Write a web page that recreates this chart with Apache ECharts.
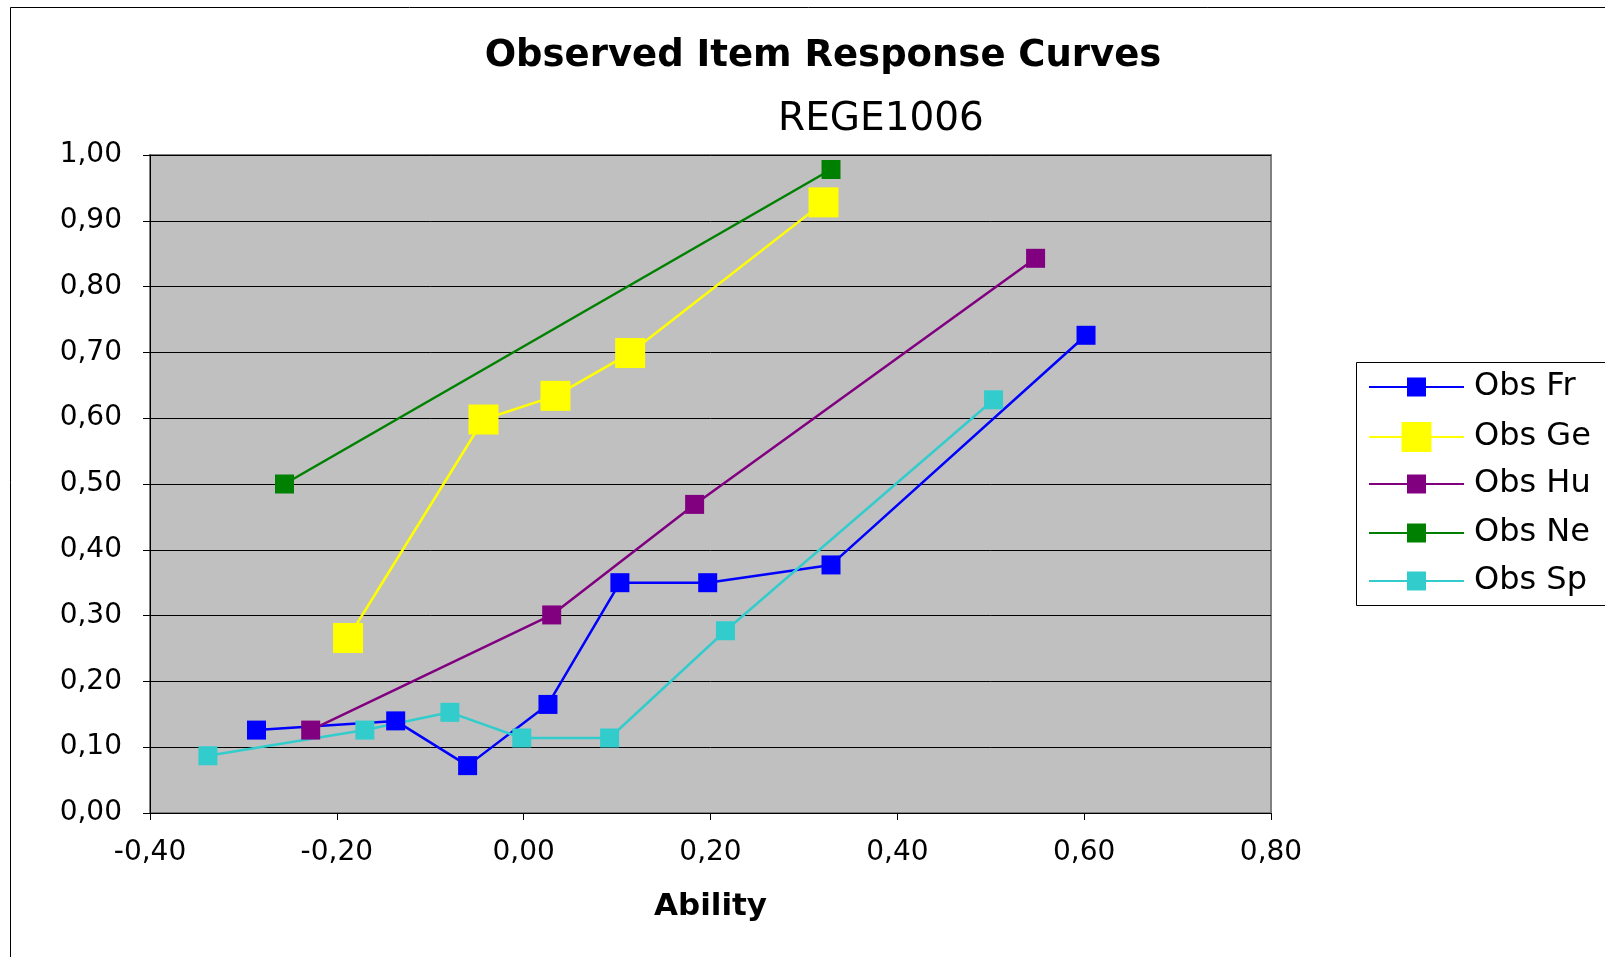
<!DOCTYPE html>
<html><head><meta charset="utf-8">
<script src="https://cdn.jsdelivr.net/npm/echarts@6/dist/echarts.min.js"></script>
<style>html,body{margin:0;padding:0;background:#fff}#c{width:1605px;height:957px}</style>
</head><body><div id="c"></div>
<script>
const seriesNames = ['Obs Fr','Obs Ge','Obs Hu','Obs Ne','Obs Sp'];
const colors = ['#0000ff','#ffff00','#800080','#008000','#33cccc'];
const frData = [[-0.286,0.126],[-0.137,0.140],[-0.060,0.072],[0.026,0.165],[0.103,0.350],[0.197,0.350],[0.329,0.377],[0.602,0.726]];
const geData = [[-0.188,0.266],[-0.043,0.598],[0.034,0.634],[0.114,0.699],[0.321,0.928]];
const huData = [[-0.228,0.126],[0.030,0.301],[0.183,0.469],[0.548,0.843]];
const neData = [[-0.256,0.500],[0.329,0.978]];
const spData = [[-0.338,0.087],[-0.170,0.126],[-0.079,0.153],[-0.002,0.114],[0.092,0.114],[0.216,0.277],[0.503,0.628]];
const allData = [frData, geData, huData, neData, spData];
const symbolSizes = [19, 30, 19, 19, 19];
const legendRowY = [387, 437, 484, 533, 581];

const fmt = v => v.toFixed(2).replace('.', ',');
const chart = echarts.init(document.getElementById('c'));
chart.setOption({
  animation: false,
  backgroundColor: '#fff',
  textStyle: {fontFamily: 'DejaVu Sans'},
  graphic: [
    {type:'rect', shape:{x:10.5,y:7.5,width:1700,height:1000}, style:{fill:'none',stroke:'#000',lineWidth:1}, silent:true, z:-10},
    {type:'rect', shape:{x:1356.5,y:362.5,width:400,height:243}, style:{fill:'#fff',stroke:'#000',lineWidth:1}, silent:true, z:-10}
  ],
  title: [
    {text:'Observed Item Response Curves', left:818, top:33, textAlign:'center',
     textStyle:{fontFamily:'DejaVu Sans', fontWeight:'bold', fontSize:37, color:'#000'}},
    {text:'REGE1006', left:876, top:95, textAlign:'center',
     textStyle:{fontFamily:'DejaVu Sans', fontWeight:'normal', fontSize:39, color:'#000'}}
  ],
  grid: {left:150, right:334, top:155, bottom:144, show:true, backgroundColor:'#c0c0c0', borderColor:'#808080', borderWidth:2},
  legend: seriesNames.map((n,i)=>({
    orient:'vertical', left:1368, top:legendRowY[i]-20, padding:0,
    data:[n], itemWidth:95, itemHeight: symbolSizes[i]/0.8,
    selectedMode:false,
    textStyle:{fontFamily:'DejaVu Sans', fontSize:32, color:'#000', lineHeight:40, padding:[0,0,0,5]}
  })),
  xAxis: {
    type:'value', min:-0.4, max:0.8, interval:0.2,
    name:'Ability', nameLocation:'middle', nameGap:78,
    nameTextStyle:{fontFamily:'DejaVu Sans', fontWeight:'bold', fontSize:31, color:'#000'},
    axisLine:{show:true, onZero:false, lineStyle:{color:'#000', width:1}},
    axisTick:{show:true, length:7, lineStyle:{color:'#000'}},
    axisLabel:{formatter:fmt, fontFamily:'DejaVu Sans', fontSize:28, color:'#000', margin:26},
    splitLine:{show:false}
  },
  yAxis: {
    type:'value', min:0, max:1, interval:0.1,
    axisLine:{show:true, onZero:false, lineStyle:{color:'#000', width:1}},
    axisTick:{show:true, length:7, lineStyle:{color:'#000'}},
    axisLabel:{formatter:fmt, fontFamily:'DejaVu Sans', fontSize:28, color:'#000', margin:28},
    splitLine:{show:true, lineStyle:{color:'#000', width:1}}
  },
  series: seriesNames.map((n,i)=>({
    name:n, type:'line', data:allData[i], symbol:'rect', symbolSize:symbolSizes[i],
    showAllSymbol:true,
    lineStyle:{color:colors[i], width:2.5}, itemStyle:{color:colors[i], borderWidth:0},
    emphasis:{disabled:true}
  }))
});
</script></body></html>
